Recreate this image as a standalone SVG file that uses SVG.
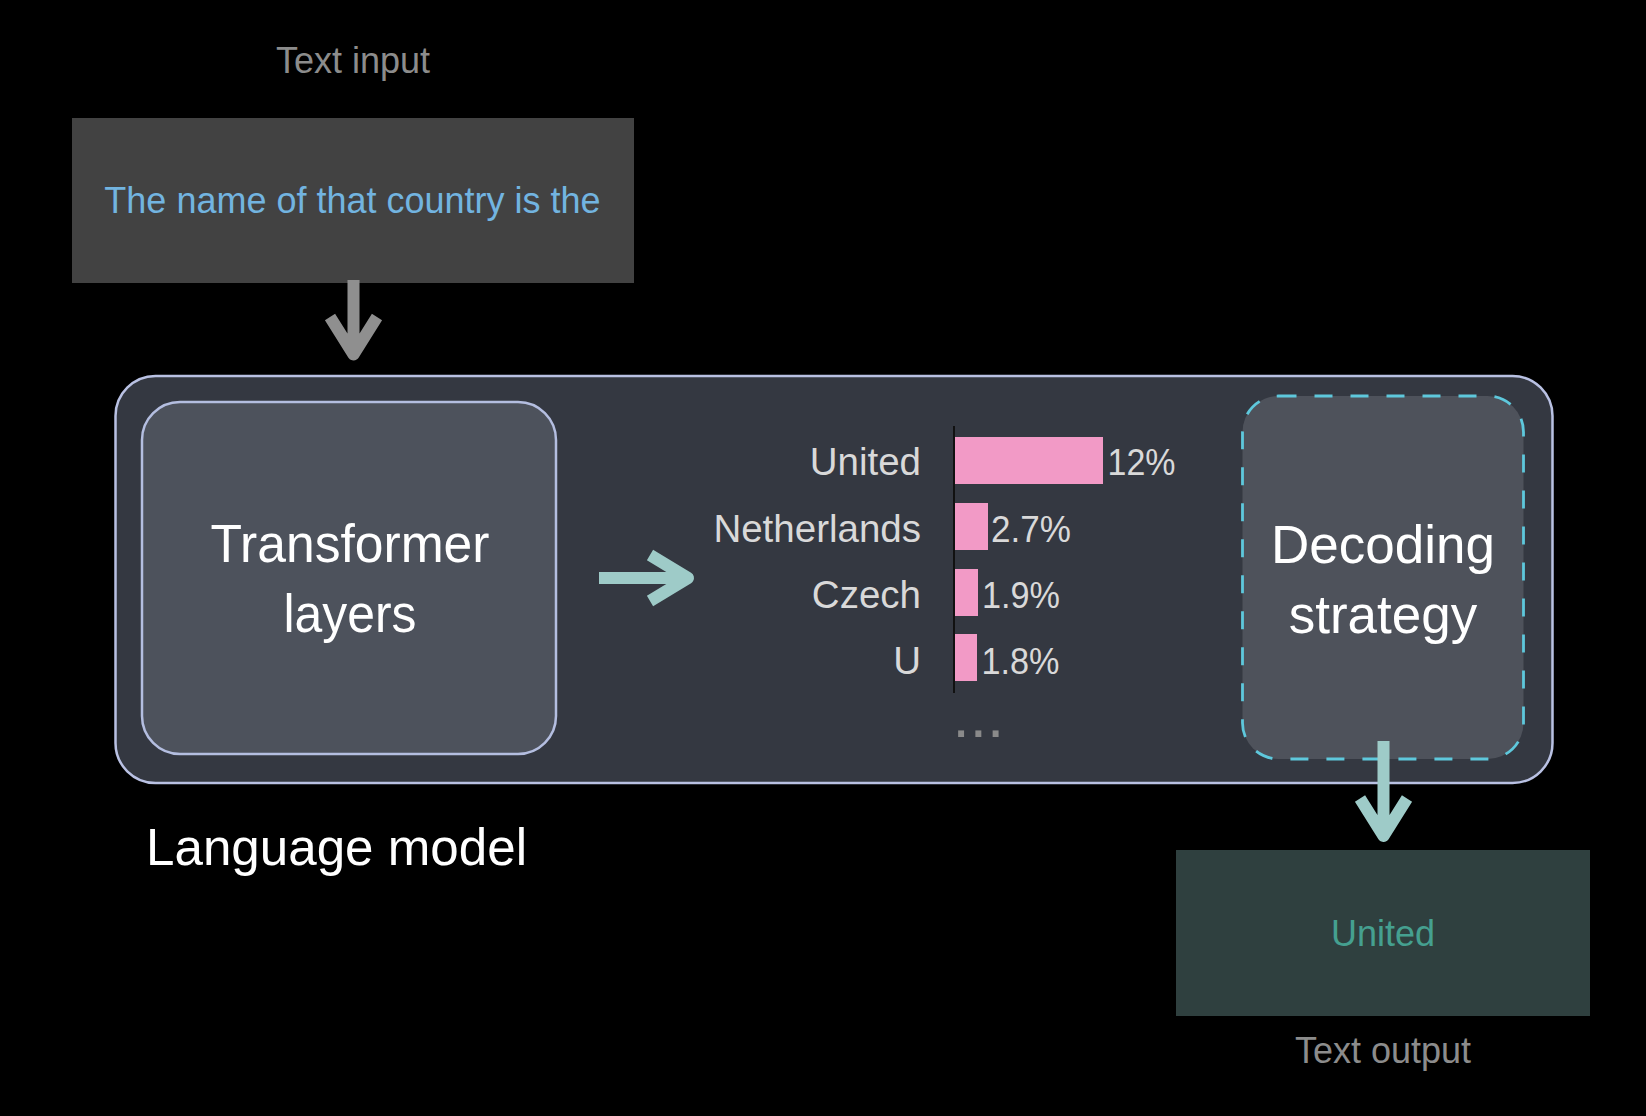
<svg xmlns="http://www.w3.org/2000/svg" width="1646" height="1116" viewBox="0 0 1646 1116">
  <style>
    text { font-family: "Liberation Sans", Arial, Helvetica, sans-serif; }
    .caption { font-size: 36px; fill: #8c8c8c; text-anchor: middle; }
    .big { font-size: 53px; fill: #ffffff; text-anchor: middle; }
    .lbl { font-size: 38.5px; fill: #d9d9d9; text-anchor: end; }
    .val { font-size: 37px; fill: #d9d9d9; }
    .bar { fill: #f29ac6; }
    .grayarrow { fill: none; stroke: #8f8f8f; stroke-width: 12; stroke-linejoin: round; stroke-linecap: butt; }
    .tealarrow { fill: none; stroke: #9ecbc8; stroke-width: 12; stroke-linejoin: round; stroke-linecap: butt; }
  </style>
  <rect x="0" y="0" width="1646" height="1116" fill="#000000"/>

  <g id="text-input-label">
    <text class="caption" x="353" y="73">Text input</text>
  </g>

  <g id="input-box">
    <rect x="72" y="118" width="562" height="165" fill="#424242"/>
    <text x="352.5" y="213" font-size="36" fill="#72b4e0" text-anchor="middle">The name of that country is the</text>
  </g>

  <g id="language-model">
    <rect x="115.5" y="376" width="1437" height="407" rx="40" ry="40" fill="#343841" stroke="#b9c1e3" stroke-width="2.5"/>
    <text x="146" y="865" font-size="52" fill="#ffffff" textLength="381" lengthAdjust="spacingAndGlyphs">Language model</text>
  </g>

  <g id="transformer-layers">
    <rect x="142" y="402" width="414" height="352" rx="38" ry="38" fill="#4d525c" stroke="#b4bee0" stroke-width="2.5"/>
    <text class="big" x="350" y="562" font-size="53" textLength="279" lengthAdjust="spacingAndGlyphs">Transformer</text>
    <text class="big" x="350" y="632" font-size="53" textLength="133" lengthAdjust="spacingAndGlyphs">layers</text>
  </g>

  <g id="distribution">
    <line x1="954" y1="426" x2="954" y2="693" stroke="#111111" stroke-width="2"/>
    <rect class="bar" x="955" y="437" width="148" height="47"/>
    <rect class="bar" x="955" y="503" width="33" height="47"/>
    <rect class="bar" x="955" y="569" width="23" height="47"/>
    <rect class="bar" x="955" y="634" width="22" height="47"/>
    <text class="lbl" x="921" y="475">United</text>
    <text class="lbl" x="921" y="541.5">Netherlands</text>
    <text class="lbl" x="921" y="607.5">Czech</text>
    <text class="lbl" x="921" y="674">U</text>
    <text class="val" x="1107.5" y="475" textLength="68" lengthAdjust="spacingAndGlyphs">12%</text>
    <text class="val" x="991" y="541.5" textLength="80" lengthAdjust="spacingAndGlyphs">2.7%</text>
    <text class="val" x="982" y="607.5" textLength="78" lengthAdjust="spacingAndGlyphs">1.9%</text>
    <text class="val" x="981.5" y="674" textLength="78" lengthAdjust="spacingAndGlyphs">1.8%</text>
    <text x="978.3" y="737" font-size="62" fill="#8a8a8a" text-anchor="middle">...</text>
  </g>

  <g id="decoding-strategy">
    <rect x="1242.5" y="396" width="281" height="363" rx="36" ry="36" fill="#4e525b" stroke="#5ec8dc" stroke-width="2.8" stroke-dasharray="18 18"/>
    <text class="big" x="1383" y="562.5">Decoding</text>
    <text class="big" x="1383" y="633">strategy</text>
  </g>

  <g id="output-box">
    <rect x="1176" y="850" width="414" height="166" fill="#2f403f"/>
    <text x="1383" y="946" font-size="36" fill="#45a090" text-anchor="middle">United</text>
  </g>

  <g id="text-output-label">
    <text class="caption" x="1383" y="1063">Text output</text>
  </g>

  <g id="connectors">
    <path class="grayarrow" d="M353.5 280 V354.5 M330 317 L353.5 354.5 L377 317"/>
    <path class="tealarrow" d="M599 578 H688 M650 555 L688 578 L650 601"/>
    <path class="tealarrow" d="M1383.5 741 V836 M1360 798.5 L1383.5 836 L1407 798.5"/>
  </g>
</svg>
